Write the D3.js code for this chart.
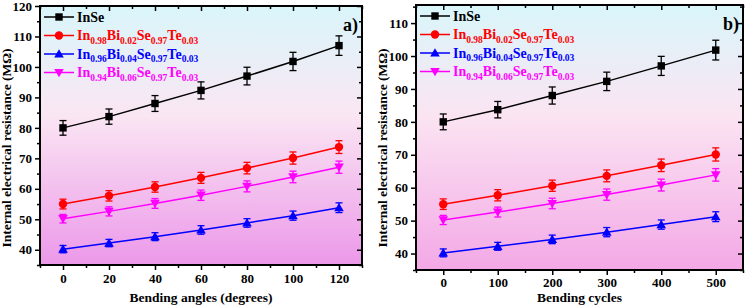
<!DOCTYPE html>
<html><head><meta charset="utf-8">
<script src="https://cdn.jsdelivr.net/npm/d3@7"></script>
<style>
html,body{margin:0;padding:0;background:#fff;}
svg text{font-family:"Liberation Serif","Times New Roman",serif;font-weight:bold;}
</style></head>
<body><svg id="chart" width="747" height="307"></svg>
<script>
// ---- data ----
const anglesX = [0, 20, 40, 60, 80, 100, 120];
const cyclesX = [0, 100, 200, 300, 400, 500];
const inse      = [80, 83.7, 88, 92.3, 97, 101.8, 107];
const inseErr   = [2.4, 2.5, 2.6, 2.8, 2.9, 3.0, 3.2];
const bi002     = [55, 57.7, 60.6, 63.6, 66.8, 70.1, 73.7];
const bi002Err  = [1.6, 1.7, 1.7, 1.8, 1.9, 2.0, 2.1];
const bi004     = [40.2, 42.2, 44.3, 46.5, 48.8, 51.2, 53.8];
const bi004Err  = [1.2, 1.2, 1.3, 1.4, 1.4, 1.5, 1.6];
const bi006     = [50.2, 52.6, 55.2, 57.9, 60.8, 63.9, 67.1];
const bi006Err  = [1.4, 1.5, 1.6, 1.7, 1.8, 1.9, 2.0];
const legendLabels = [
  [["InSe",""]],
  [["In",""],["0.98","s"],["Bi",""],["0.02","s"],["Se",""],["0.97","s"],["Te",""],["0.03","s"]],
  [["In",""],["0.96","s"],["Bi",""],["0.04","s"],["Se",""],["0.97","s"],["Te",""],["0.03","s"]],
  [["In",""],["0.94","s"],["Bi",""],["0.06","s"],["Se",""],["0.97","s"],["Te",""],["0.03","s"]]
];
const seriesColors = ["#000000", "#ff0000", "#0000ff", "#ff00ff"];
const seriesMarkers = ["square", "circle", "triUp", "triDown"];
const yTitle = "Internal electrical resistance (MΩ)";

const svg = d3.select("#chart");
const defs = svg.append("defs");
function grad(id, stops){
  const g = defs.append("linearGradient").attr("id", id).attr("x1",0).attr("y1",0).attr("x2",0).attr("y2",1);
  stops.forEach(s=>g.append("stop").attr("offset",s[0]).attr("stop-color",s[1]));
}
grad("bgA", [[0,"#d9f6fa"],[0.42,"#fae6f3"],[1,"#ec98e9"]]);
grad("bgB", [[0,"#d9f6fa"],[0.42,"#fbe4f2"],[1,"#f3a8e6"]]);

function marker(g, type, x, y, color){
  const s = 3.7;
  if (type==="square") g.append("rect").attr("x",x-s).attr("y",y-s).attr("width",2*s).attr("height",2*s).attr("fill",color);
  else if (type==="circle") g.append("circle").attr("cx",x).attr("cy",y).attr("r",4.2).attr("fill",color);
  else if (type==="triUp") g.append("path").attr("d",`M${x},${y-4.8}L${x+4.8},${y+3.6}L${x-4.8},${y+3.6}Z`).attr("fill",color);
  else g.append("path").attr("d",`M${x},${y+4.8}L${x+4.8},${y-3.6}L${x-4.8},${y-3.6}Z`).attr("fill",color);
}

function drawPanel(cfg){
  const {left, top, right, bottom, xs, xDomain, yDomain, xTicks, xMinor, yTicks, yMinor, xTitle, label, bg, xPad} = cfg;
  const n = xs.length;
  const x = d3.scaleLinear().domain(xDomain).range([left, right]);
  const y = d3.scaleLinear().domain(yDomain).range([bottom, top]);
  const g = svg.append("g");
  g.append("rect").attr("x",left).attr("y",top).attr("width",right-left).attr("height",bottom-top).attr("fill",`url(#${bg})`);

  const ax = (gen, tr) => {
    const a = g.append("g").attr("transform", tr).call(gen);
    a.select(".domain").remove();
    a.selectAll("line").attr("stroke","#000").attr("stroke-width",1.5);
    a.selectAll("text").attr("font-size","13px").attr("fill","#000");
    return a;
  };
  ax(d3.axisBottom(x).tickValues(xTicks).tickSize(5).tickPadding(xPad).tickFormat(d3.format("d")), `translate(0,${bottom})`);
  ax(d3.axisBottom(x).tickValues(xMinor).tickSize(3).tickFormat(""), `translate(0,${bottom})`);
  ax(d3.axisTop(x).tickValues(xTicks).tickSize(-5).tickFormat(""), `translate(0,${top})`);
  ax(d3.axisTop(x).tickValues(xMinor).tickSize(-3).tickFormat(""), `translate(0,${top})`);
  ax(d3.axisLeft(y).tickValues(yTicks).tickSize(5).tickPadding(3).tickFormat(d3.format("d")), `translate(${left},0)`);
  ax(d3.axisLeft(y).tickValues(yMinor).tickSize(3).tickFormat(""), `translate(${left},0)`);
  ax(d3.axisRight(y).tickValues(yTicks).tickSize(-5).tickFormat(""), `translate(${right},0)`);
  ax(d3.axisRight(y).tickValues(yMinor).tickSize(-3).tickFormat(""), `translate(${right},0)`);

  const all = [[inse,inseErr],[bi002,bi002Err],[bi004,bi004Err],[bi006,bi006Err]];
  all.forEach((s,i)=>{
    const vals = s[0].slice(0,n), errs = s[1].slice(0,n), c = seriesColors[i];
    const pts = xs.map((xv,j)=>[x(xv), y(vals[j])]);
    g.append("path").attr("d", d3.line()(pts)).attr("fill","none").attr("stroke",c).attr("stroke-width",1.5);
    xs.forEach((xv,j)=>{
      const px = x(xv), y1 = y(vals[j]+errs[j]), y2 = y(vals[j]-errs[j]);
      g.append("line").attr("x1",px).attr("x2",px).attr("y1",y1).attr("y2",y2).attr("stroke",c).attr("stroke-width",1.3);
      [y1,y2].forEach(yy=>g.append("line").attr("x1",px-3.5).attr("x2",px+3.5).attr("y1",yy).attr("y2",yy).attr("stroke",c).attr("stroke-width",1.3));
      marker(g, seriesMarkers[i], px, y(vals[j]), c);
    });
  });

  g.append("rect").attr("x",left).attr("y",top).attr("width",right-left).attr("height",bottom-top)
    .attr("fill","none").attr("stroke","#000").attr("stroke-width",2);

  legendLabels.forEach((parts,i)=>{
    const ly = top + 11 + i*18.5;
    const c = seriesColors[i];
    g.append("line").attr("x1",left+4).attr("x2",left+34).attr("y1",ly).attr("y2",ly).attr("stroke",c).attr("stroke-width",1.5);
    marker(g, seriesMarkers[i], left+19, ly, c);
    const t = g.append("text").attr("x",left+37).attr("y",ly+4.5).attr("fill",c).attr("font-size","14px");
    let sub = false;
    parts.forEach(p=>{
      const isSub = p[1]==="s";
      const ts = t.append("tspan").text(p[0]);
      if (isSub && !sub) ts.attr("dy",3.5).attr("font-size","9.5px");
      else if (isSub) ts.attr("font-size","9.5px");
      else if (!isSub && sub) ts.attr("dy",-3.5);
      sub = isSub;
    });
  });

  g.append("text").attr("x",right-4).attr("y",top+25).attr("text-anchor","end").attr("font-size","18px").text(label);

  g.append("text").attr("x",(left+right)/2).attr("y",302).attr("text-anchor","middle").attr("font-size","13.5px").text(xTitle);
  g.append("text").attr("transform",`translate(${left-29},148) rotate(-90)`).attr("text-anchor","middle").attr("font-size","13.5px").text(yTitle);
}

drawPanel({left:40, top:6, right:362, bottom:265, xs:anglesX, xDomain:[-10,130], yDomain:[35,120],
  xTicks:[0,20,40,60,80,100,120], xMinor:[-10,10,30,50,70,90,110,130],
  yTicks:[40,50,60,70,80,90,100,110,120], yMinor:[35,45,55,65,75,85,95,105,115],
  xTitle:"Bending angles (degrees)", label:"a)", bg:"bgA", xPad:4});

drawPanel({left:416, top:5, right:743, bottom:270, xs:cyclesX, xDomain:[-50,550], yDomain:[35,115.5],
  xTicks:[0,100,200,300,400,500], xMinor:[-50,50,150,250,350,450,550],
  yTicks:[40,50,60,70,80,90,100,110], yMinor:[35,45,55,65,75,85,95,105,115],
  xTitle:"Bending cycles", label:"b)", bg:"bgB", xPad:3});
</script></body></html>
